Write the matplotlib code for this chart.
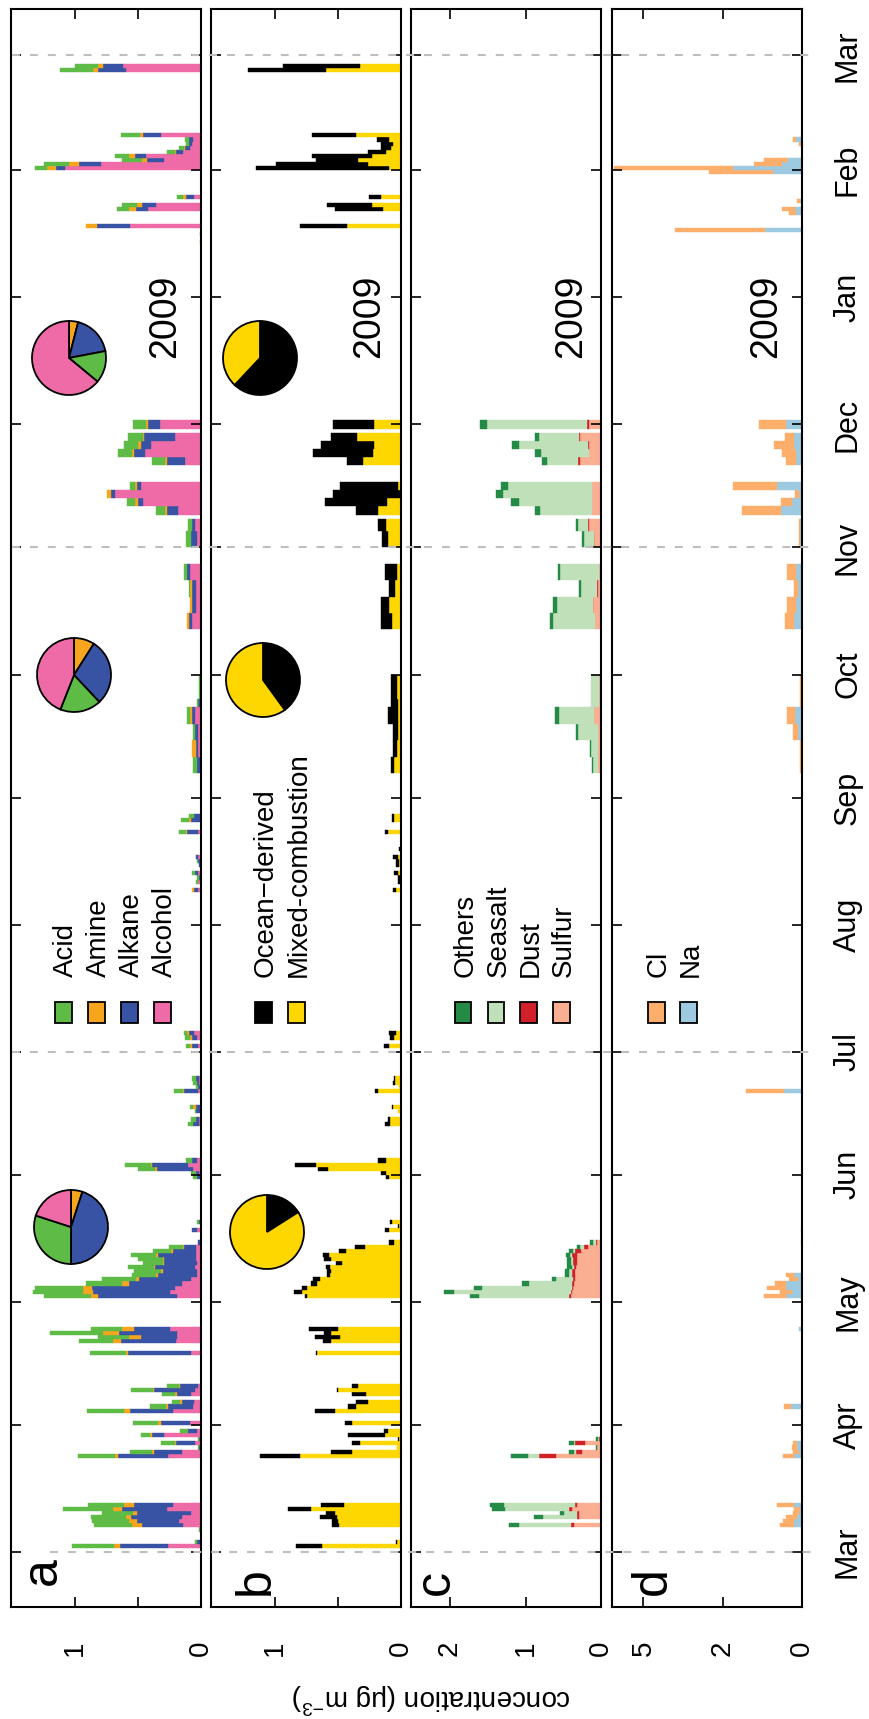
import numpy as np
import matplotlib
matplotlib.use("Agg")
import matplotlib.pyplot as plt
from matplotlib.patches import Rectangle
from matplotlib.lines import Line2D
from matplotlib.transforms import blended_transform_factory

plt.rcParams["font.family"] = ["Liberation Sans", "DejaVu Sans"]
plt.rcParams["mathtext.fontset"] = "custom"
plt.rcParams["mathtext.rm"] = "Liberation Sans"

W, H = 869, 1719

# time axis: days counted from 1 Mar 2009
months = ["Mar", "Apr", "May", "Jun", "Jul", "Aug", "Sep", "Oct", "Nov", "Dec", "Jan", "Feb", "Mar"]
month_days = [0, 31, 61, 92, 122, 153, 184, 214, 245, 275, 306, 337, 365]
dashed_days = [0, 122, 245, 365]

# panel a: (first day, last day, Acid, Amine, Alkane, Alcohol)
org_names = ["Acid", "Amine", "Alkane", "Alcohol"]
org_rows = [
    (1, 1, .333, .048, .38, .26), (2, 2, .013, 0, .032, 0), (5, 5, .013, 0, 0, 0),
    (6, 6, .30, .08, .325, .143), (7, 7, .294, .063, .333, .175), (8, 8, .28, .04, .405, .15),
    (9, 9, .24, .032, .43, .08), (10, 10, .40, .071, .357, .27), (11, 11, .286, .08, .31, .222),
    (23, 23, .294, .024, .40, .26), (24, 24, .175, .016, .222, .15), (25, 25, .01, 0, .013, 0),
    (26, 26, .111, .008, .15, .048), (27, 27, .008, .005, .008, .005), (28, 28, .071, .016, .095, .294),
    (29, 29, .063, 0, .071, .032), (31, 31, .20, .024, .23, .087), (34, 34, .294, .048, .34, .22),
    (35, 35, .127, .016, .20, .063), (36, 36, .063, .016, .095, .056), (38, 38, .103, .016, .111, .08),
    (39, 39, .175, .008, .325, .048), (40, 40, .095, .008, .143, .024), (48, 48, .286, .016, .50, .08),
    (51, 51, .27, .063, .437, .20), (52, 52, .246, .095, .286, .19), (53, 53, .42, .127, .46, .19),
    (54, 54, .246, .095, .286, .246), (62, 62, .373, .056, .627, .19), (63, 63, .40, .08, .61, .246),
    (64, 64, .38, .07, .66, .206), (65, 65, .29, .056, .42, .15), (66, 66, .27, .024, .41, .08),
    (67, 67, .19, .013, .31, .032), (68, 68, .21, .016, .27, .032), (69, 69, .204, .013, .315, .048),
    (70, 70, .156, .013, .26, .032), (71, 71, .20, .008, .25, .04), (72, 72, .20, .01, .304, .04),
    (73, 73, .143, .016, .183, .04), (74, 74, .111, .008, .098, .04), (75, 75, 0, 0, .021, .005),
    (78, 78, 0, 0, .04, .032), (80, 80, .01, 0, .01, .008), (91, 91, .032, 0, .024, .008),
    (92, 92, .04, 0, .026, .013), (93, 93, .138, .013, .288, .061), (94, 94, .206, .008, .283, .106),
    (95, 95, .045, 0, .042, .032), (104, 104, .04, 0, .048, .016), (105, 105, .04, 0, .024, .016),
    (107, 107, .01, 0, .04, 0), (108, 108, .024, .021, .042, 0), (112, 112, .071, .008, .108, .026),
    (113, 113, .018, 0, .015, .008), (114, 114, .032, 0, .018, .013), (115, 115, .032, 0, .02, .018),
    (123, 123, .032, .015, .045, .026), (125, 125, .04, .013, .042, .032), (126, 126, .024, .013, .04, .058),
    (161, 161, 0, .016, .03, .026), (163, 163, .013, 0, 0, .026), (164, 164, .016, 0, .018, 0),
    (165, 165, .024, 0, .02, .026), (167, 167, 0, 0, .016, 0), (168, 168, .008, 0, .024, 0),
    (169, 169, 0, 0, .016, .024), (175, 175, .056, .008, .087, .024), (178, 178, .063, .016, .08, 0),
    (179, 179, .04, 0, .048, .008), (190, 193, .032, 0, .024, .008), (194, 197, 0, .032, .013, .026),
    (198, 201, .016, 0, .02, .026), (202, 205, .024, .016, .024, .048), (206, 207, .01, .005, .01, .01),
    (208, 213, .016, 0, 0, 0), (225, 228, 0, .016, .024, .071), (229, 232, 0, .016, .032, .04),
    (233, 236, .008, .016, .032, .04), (237, 240, .024, 0, .024, .087), (245, 248, .04, 0, .048, .032),
    (249, 251, .032, 0, .024, .048), (253, 254, .071, .016, .087, .183), (255, 256, .063, .024, .04, .46),
    (257, 258, 0, .032, .032, .683), (259, 260, .04, .016, .032, .476), (265, 266, .103, .016, .143, .127),
    (267, 268, .111, .016, .087, .444), (269, 270, .111, .024, .079, .397), (271, 272, .119, .008, .246, .206),
    (274, 275, .103, .016, .095, .325), (319, 319, 0, .008, 0, 0), (321, 321, .008, 0, 0, 0),
    (323, 323, 0, .087, .262, .563), (327, 327, .095, .056, .095, .42), (328, 328, .119, .04, .111, .357),
    (330, 330, .048, .024, .063, .056), (337, 337, .095, .071, .071, 1.08), (338, 338, .198, .08, .175, .794),
    (339, 339, .159, .04, .135, .294), (340, 340, .111, .048, .087, .437), (341, 341, .063, .008, .056, .143),
    (342, 342, .04, .008, .04, .087), (343, 343, .024, 0, .024, .071), (344, 344, .032, 0, .032, .063),
    (345, 345, .151, .024, .143, .317), (361, 361, .262, .04, .222, .595), (362, 362, .183, .04, .159, .619),
]
# pie shares (Acid, Amine, Alkane, Alcohol) for spring, autumn, winter
org_pies = [[.30, .05, .45, .20], [.18, .09, .29, .44], [.14, .04, .18, .64]]

# panel b: (first day, last day, Ocean-derived, Mixed-combustion)
src_names = ["Ocean\u2212derived", "Mixed-combustion"]
src_rows = [
    (1, 1, .206, .626), (2, 2, .012, .03), (6, 6, .055, .49), (7, 7, .05, .50), (8, 8, .13, .51),
    (9, 9, .072, .525), (10, 10, .18, .713), (11, 11, .179, .453), (23, 23, .32, .80), (24, 24, .167, .39),
    (25, 25, 0, .035), (26, 26, .06, .326), (27, 27, .01, .014), (28, 28, .29, .127), (29, 29, .035, .10),
    (31, 31, .052, .39), (34, 34, .162, .522), (35, 35, .066, .358), (36, 36, .10, .26), (38, 38, .115, .274),
    (39, 39, .005, .50), (40, 40, .052, .338), (48, 48, .006, .67), (51, 51, .066, .554), (52, 52, .196, .488),
    (53, 53, .058, .554), (54, 54, .23, .50), (62, 62, .016, .746), (63, 63, .063, .786), (64, 64, .04, .746),
    (65, 65, .048, .667), (66, 66, .056, .643), (67, 67, .024, .563), (68, 68, .032, .556), (69, 69, .032, .563),
    (70, 70, .048, .468), (71, 71, .056, .556), (72, 72, .048, .571), (73, 73, .056, .437), (74, 74, .079, .286),
    (75, 75, .04, .056), (78, 78, .032, .095), (79, 79, .005, .016), (80, 80, .016, .071), (91, 91, .024, .095),
    (92, 92, .04, .119), (93, 93, .079, .579), (94, 94, .167, .675), (95, 95, .063, .119), (104, 104, .037, .09),
    (105, 105, .013, .087), (107, 107, 0, .02), (108, 108, .008, .063), (112, 112, .024, .183), (113, 113, 0, .013),
    (114, 114, .016, .048), (115, 115, .008, .045), (123, 123, .037, .098), (125, 125, .03, .058), (126, 126, .053, .04),
    (161, 161, .026, .037), (163, 164, .01, .01), (165, 165, .032, .026), (167, 168, .026, .013), (169, 169, .037, .026),
    (171, 171, .013, 0), (175, 175, .021, .106), (178, 179, .013, .058), (190, 193, .026, .053), (194, 197, .032, .032),
    (198, 201, .037, .026), (202, 205, .077, .026), (206, 207, .053, .026), (208, 213, .05, .03), (225, 228, .087, .071),
    (229, 232, .063, .095), (233, 236, .048, .048), (237, 240, .095, .032), (245, 248, .048, .103), (249, 251, .063, .119),
    (253, 254, .175, .183), (255, 256, .492, .111), (257, 258, .54, 0), (259, 260, .46, .024), (265, 266, .127, .302),
    (267, 268, .476, .222), (269, 270, .42, .214), (271, 272, .206, .349), (274, 275, .325, .214), (323, 323, .373, .429),
    (327, 327, .381, .143), (328, 328, .357, .23), (330, 330, .095, .159), (337, 337, 1.056, .095), (338, 338, .73, .262),
    (339, 339, .333, .341), (340, 340, .476, .23), (341, 341, .143, .119), (342, 342, .079, .079), (343, 343, .095, .063),
    (344, 344, .095, .095), (345, 345, .349, .357), (361, 361, .619, .595), (362, 362, .611, .325),
]
src_pies = [[.16, .84], [.40, .60], [.62, .38]]

# panel c: (first day, last day, Others, Seasalt, Dust, Sulfur)
elem_names = ["Others", "Seasalt", "Dust", "Sulfur"]
elem_rows = [
    (6, 6, .135, .684, .04, .356), (8, 8, .11, .45, .03, .294), (9, 9, .053, .164, .03, .294),
    (10, 10, .169, .85, .04, .38), (11, 11, .183, .944, .024, .318), (23, 23, .226, .15, .222, .60),
    (24, 24, .072, .024, .082, .25), (25, 25, .015, 0, 0, .053), (26, 26, .072, .015, .13, .212),
    (27, 27, .015, .015, .015, .015), (62, 62, .12, 1.19, .029, .40), (63, 63, .13, 1.55, .02, .38),
    (64, 64, .11, 1.18, .02, .37), (65, 65, .087, .578, .02, .36), (66, 66, .058, .226, .02, .35),
    (67, 68, .048, .043, .034, .347), (69, 69, .063, .029, .029, .328), (70, 70, .058, .02, .058, .313),
    (71, 71, .058, .02, .058, .318), (72, 72, .058, .02, .067, .318), (73, 73, .058, .024, .077, .27),
    (74, 74, .04, .053, .058, .169), (75, 75, .03, .043, .014, .053), (190, 193, .01, .06, 0, .044),
    (194, 197, .01, .088, 0, .044), (198, 201, .02, .265, 0, .044), (202, 205, .052, .47, 0, .088),
    (206, 213, 0, .1, 0, .03), (225, 228, .052, .55, 0, .08), (229, 232, .052, .478, .01, .1),
    (233, 236, .03, .206, .01, .044), (237, 240, .03, .515, 0, .03), (245, 248, .03, .13, .01, .088),
    (249, 251, .03, .13, .01, .16), (253, 254, .066, .684, 0, .125), (255, 256, .103, .96, 0, .125),
    (257, 258, .096, 1.17, 0, .125), (259, 260, .088, 1.11, 0, .125), (265, 266, .06, .41, .03, .28),
    (267, 268, .08, .633, 0, .16), (269, 270, .103, .912, .01, .16), (271, 272, .052, .53, .01, .28),
    (274, 275, .096, 1.317, .03, .162),
]

# panel d: (first day, last day, Cl, Na)
ion_names = ["Cl", "Na"]
ion_rows = [
    (6, 6, .30, .17), (7, 7, .23, .17), (8, 8, .22, .11), (9, 9, .11, .07), (10, 10, .11, .05),
    (11, 11, .37, .17), (23, 23, .24, .17), (24, 24, .11, .07), (25, 25, .11, .11), (26, 26, .09, .10),
    (29, 29, 0, .03), (35, 35, .16, .23), (54, 54, 0, .07), (62, 62, .51, .35), (63, 63, .27, .20),
    (64, 64, .44, .35), (65, 65, .27, .33), (66, 66, .18, .09), (67, 67, .18, .17), (75, 75, .03, 0),
    (78, 78, .03, 0), (112, 112, .93, .39), (190, 197, .05, 0), (198, 201, .10, .09), (202, 205, .17, .14),
    (206, 213, .04, 0), (225, 228, .21, .16), (229, 232, .20, .125), (233, 236, .07, .09), (237, 240, .20, .125),
    (245, 251, .02, .05), (253, 254, .97, .46), (255, 256, .26, .20), (257, 258, .08, .06), (259, 260, 1.14, .55),
    (265, 266, .20, .13), (267, 268, .29, .13), (269, 270, .44, .17), (271, 272, .19, .17), (274, 275, .65, .33),
    (322, 322, 2.82, .84), (326, 326, .14, .13), (327, 327, .27, .15), (329, 329, .05, .05), (336, 336, 1.77, .65),
    (337, 337, 4.8, 1.68), (338, 338, .69, .42), (339, 339, .55, .307), (343, 343, .05, .02), (344, 344, .07, .117),
]

org_colors = ["#5DBB46", "#F7A51C", "#3953A4", "#EF6BA7"]
src_colors = ["#000000", "#FFD700"]
elem_colors = ["#238B45", "#BFE0B8", "#D2202A", "#FAAE92"]
ion_colors = ["#FDAE6B", "#9ECAE1"]


def fig_rect(x0, x1, y0, y1):
    return [x0 / W, 1 - y1 / H, (x1 - x0) / W, (y1 - y0) / H]


def d_fwd(x):
    return np.log((np.asarray(x, dtype=float) + 4) / 4)


def d_inv(y):
    return 4 * np.exp(np.asarray(y, dtype=float)) - 4


fig = plt.figure(figsize=(W / 100, H / 100), dpi=100)

panel_x = [(11, 201), (211, 401), (411, 601), (612, 802)]
panels = [
    (org_rows, org_colors, 1.508, [0, 0.5, 1], ["0", "", "1"]),
    (src_rows, src_colors, 1.508, [0, 0.5, 1], ["0", "", "1"]),
    (elem_rows, elem_colors, 2.517, [0, 1, 2], ["0", "1", "2"]),
    (ion_rows, ion_colors, 6.57, [0, 2, 5], ["0", "2", "5"]),
]

axes = []
for i, ((x0, x1), (rows, colors, xmax, ticks, labels)) in enumerate(zip(panel_x, panels)):
    ax = fig.add_axes(fig_rect(x0, x1, 9.5, 1607))
    if i == 3:
        ax.set_xscale("function", functions=(d_fwd, d_inv))
    for r in rows:
        d0, d1, vals = r[0], r[1], r[2:]
        left = 0
        # stack from zero: last legend entry first
        for v, c in zip(vals[::-1], colors[::-1]):
            if v > 0:
                ax.barh((d0 + d1 + 1) / 2, v, left=left, height=d1 - d0 + 1,
                        color=c, edgecolor=c, linewidth=0.3)
            left += v
    ax.set_xlim(xmax, 0)
    ax.set_ylim(-13.4, 376.2)
    ax.set_xticks(ticks)
    ax.set_xticklabels(labels)
    ax.set_yticks(month_days)
    ax.tick_params(axis="x", direction="in", top=True, bottom=True, length=7, width=1.2,
                   labelsize=20, labelrotation=90, pad=24)
    ax.tick_params(axis="y", direction="in", left=True, right=True, length=7, width=1.2,
                   labelleft=False)
    for s in ax.spines.values():
        s.set_linewidth(1.5)
    axes.append(ax)

# month labels right of panel d
tr_d = blended_transform_factory(fig.transFigure, axes[3].transData)
for m, d in zip(months, month_days):
    fig.text(856 / W, d, m, transform=tr_d, rotation=90, rotation_mode="anchor",
             ha="center", va="baseline", fontsize=22)

# dashed season lines across all panels
tr_a = blended_transform_factory(fig.transFigure, axes[0].transData)
for k, d in enumerate(dashed_days):
    xs = 50 if k == 0 else 12
    fig.add_artist(Line2D([xs / W, 816 / W], [d, d], transform=tr_a, color="#BEBEBE",
                          lw=1.5, ls=(0, (3.8, 4.8)), zorder=5))

# panel letters and year
letter_base = [56, 269, 449, 666]
letter_start = [1585, 1595, 1595, 1595]
for ax_lab, bx, sy in zip("abcd", letter_base, letter_start):
    fig.text(bx / W, 1 - sy / H, ax_lab, rotation=90, rotation_mode="anchor",
             ha="left", va="baseline", fontsize=36)
for cx in [165, 369, 571, 766]:
    fig.text(cx / W, 1 - 316 / H, "2009", rotation=90, ha="center", va="center", fontsize=27)

# y-axis title (upside down)
fig.text(432 / W, 1 - 1698 / H, "concentration (\u03bcg m$^{\\mathrm{-3}}$)", rotation=180,
         ha="center", va="center", fontsize=20)

# legends
legends = [
    (org_names, org_colors, [63, 96, 129, 162]),
    (src_names, src_colors, [263, 296]),
    (elem_names, elem_colors, [463, 496, 528, 561]),
    (ion_names, ion_colors, [656, 688]),
]
for names, colors, centers in legends:
    for nm, c, cx in zip(names, colors, centers):
        fig.add_artist(Rectangle(((cx - 8.5) / W, 1 - 1023 / H), 17 / W, 21 / H,
                                 transform=fig.transFigure, facecolor=c, edgecolor="black", lw=1.3))
        fig.text((cx + 10) / W, 1 - 977 / H, nm, rotation=90, rotation_mode="anchor",
                 ha="left", va="baseline", fontsize=20)

# pies
pie_r = 37
org_pie_centers = [(71, 1227), (74, 675), (69, 358)]
src_pie_centers = [(267, 1232), (263, 680), (260, 358)]
for (cx, cy), sh in zip(org_pie_centers, org_pies):
    pa = fig.add_axes(fig_rect(cx - pie_r * 1.1, cx + pie_r * 1.1, cy - pie_r * 1.1, cy + pie_r * 1.1))
    order = [1, 2, 0, 3]
    pa.pie([sh[j] for j in order], colors=[org_colors[j] for j in order], startangle=90,
           counterclock=False, wedgeprops=dict(edgecolor="black", linewidth=1.3))
    pa.set_xlim(-1.1, 1.1)
    pa.set_ylim(-1.1, 1.1)
    pa.axis("off")
for (cx, cy), sh in zip(src_pie_centers, src_pies):
    pa = fig.add_axes(fig_rect(cx - pie_r * 1.1, cx + pie_r * 1.1, cy - pie_r * 1.1, cy + pie_r * 1.1))
    pa.pie(sh, colors=src_colors, startangle=90, counterclock=False,
           wedgeprops=dict(edgecolor="black", linewidth=1.3))
    pa.set_xlim(-1.1, 1.1)
    pa.set_ylim(-1.1, 1.1)
    pa.axis("off")

fig.savefig("out.png", dpi=100)
